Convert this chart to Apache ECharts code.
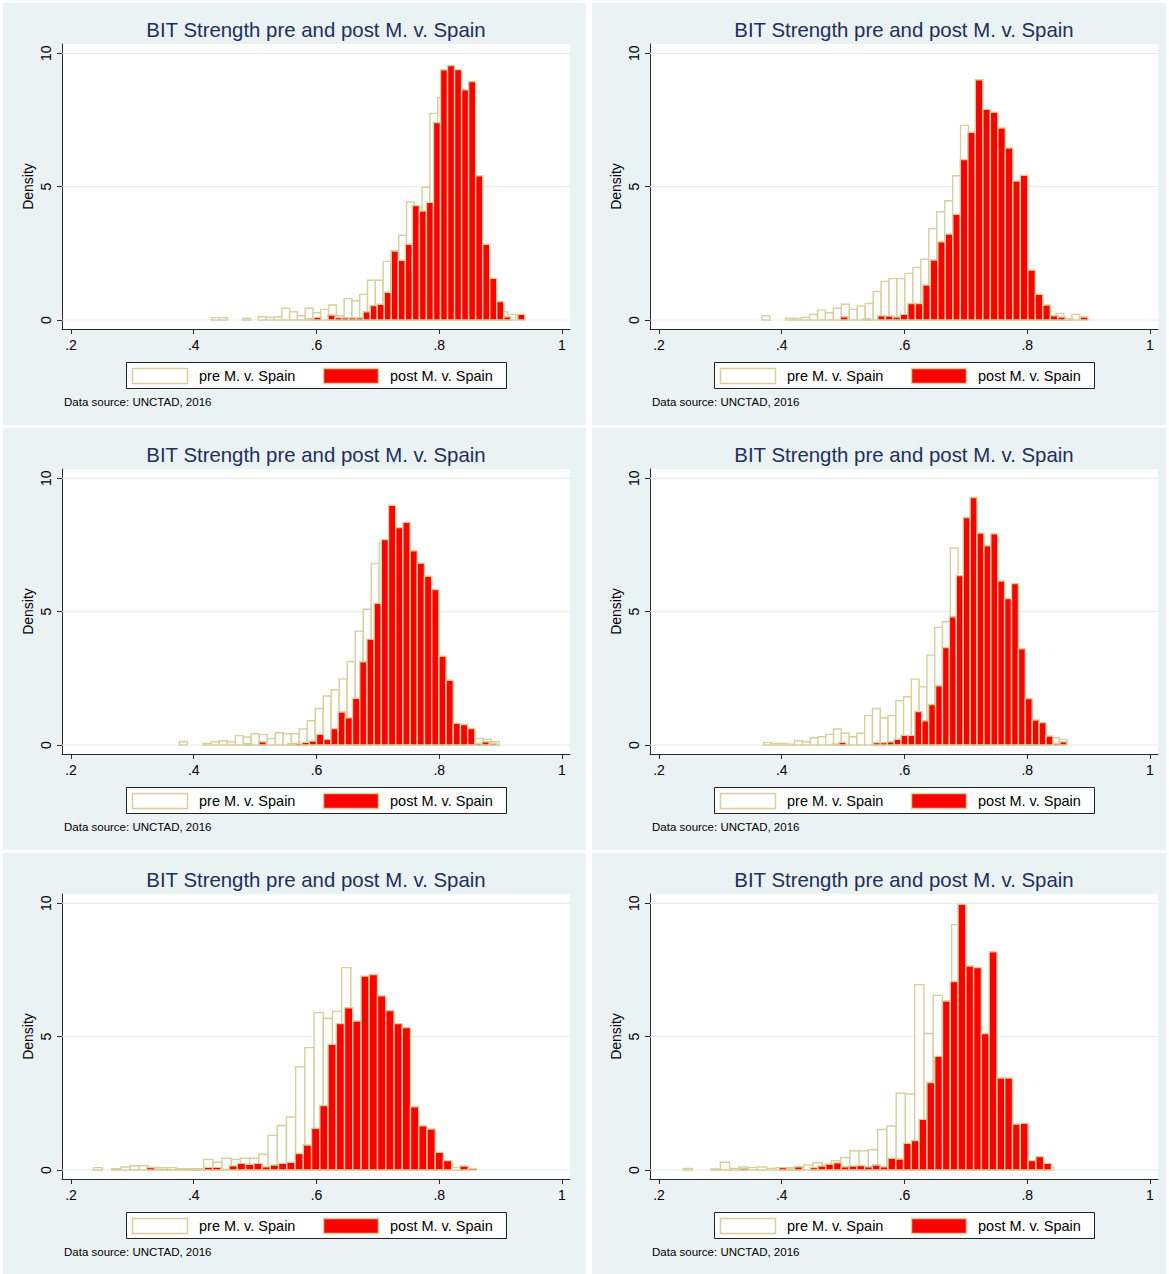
<!DOCTYPE html>
<html>
<head>
<meta charset="utf-8">
<script src="https://cdn.jsdelivr.net/npm/echarts@6/dist/echarts.min.js"></script>
<style>
html,body{margin:0;padding:0;background:#ffffff;}
#chart{width:1169px;height:1274px;}
</style>
</head>
<body>
<div id="chart"></div>
<script>
// ---------- texts & ticks ----------
const chartTitle = 'BIT Strength pre and post M. v. Spain';
const yAxisTitle = 'Density';
const preLabel = 'pre M. v. Spain';
const postLabel = 'post M. v. Spain';
const sourceNote = 'Data source: UNCTAD, 2016';
const xTickValues = [0.2, 0.4, 0.6, 0.8, 1];
const xTickLabels = ['.2', '.4', '.6', '.8', '1'];
const yTickValues = [0, 5, 10];
const yTickLabels = ['0', '5', '10'];

// ---------- panel 1 (top left) ----------
const p1PreStart = 0.4291, p1PreWidth = 0.012704;
const p1Pre = [0.09, 0.09, 0, 0, 0.06, 0, 0.12, 0.1, 0.12, 0.44, 0.31, 0.16, 0.44, 0.27, 0.4, 0.56, 0.16,
  0.8, 0.72, 0.96, 1.49, 1.49, 2.2, 2.6, 3.18, 4.43, 4.2, 4.98, 7.75, 8.34, 7.5, 7.7, 6.5, 5.0, 2.8, 1.5, 0.7, 0.31, 0.21];
const p1PostStart = 0.5844, p1PostWidth = 0.011455;
const p1Post = [0.05, 0.1, 0, 0.19, 0.09, 0.08, 0.08, 0.08, 0.31, 0.54, 0.59, 1.04, 2.59, 2.24, 2.84, 4.29, 4.09,
  4.41, 7.4, 9.38, 9.54, 9.39, 8.63, 8.94, 5.41, 2.84, 1.56, 0.69, 0.12, 0, 0.21];

// ---------- panel 2 (top right) ----------
const p2PreStart = 0.3676, p2PreWidth = 0.012952;
const p2Pre = [0.16, 0, 0, 0.07, 0.06, 0.1, 0.21, 0.37, 0.27, 0.44, 0.59, 0.4, 0.52, 0.62, 1.07, 1.45, 1.55, 1.55,
  1.75, 1.97, 2.28, 3.43, 4.06, 4.47, 5.41, 7.3, 7.0, 7.0, 6.2, 5.2, 4.2, 3.0, 2.0, 1.2, 0.5, 0.2, 0.1, 0.25, 0.05, 0.21];
const p2PostStart = 0.4955, p2PostWidth = 0.012218;
const p2Post = [0.12, 0, 0, 0.05, 0, 0.16, 0.15, 0.11, 0.21, 0.62, 0.62, 1.31, 2.25, 2.93, 3.22, 3.96, 6.02, 7.04,
  9.01, 7.9, 7.79, 7.2, 6.45, 5.21, 5.43, 1.87, 0.96, 0.56, 0.16, 0.11, 0.05, 0, 0.11];

// ---------- panel 3 (middle left) ----------
const p3PreStart = 0.3764, p3PreWidth = 0.013029;
const p3Pre = [0.12, 0, 0, 0.06, 0.12, 0.16, 0.12, 0.35, 0.3, 0.42, 0.39, 0.24, 0.46, 0.42, 0.42, 0.6, 0.91, 1.37,
  1.84, 2.07, 2.48, 3.13, 4.27, 5.09, 6.8, 7.58, 7.3, 6.8, 6.0, 4.8, 3.6, 2.8, 2.2, 1.6, 0.7, 0.4, 0.2, 0.25, 0.21, 0.12];
const p3PostStart = 0.4828, p3PostWidth = 0.011726;
const p3Post = [0.05, 0, 0.12, 0, 0, 0, 0.05, 0.06, 0.1, 0.15, 0.4, 0.21, 0.62, 1.24, 1.02, 1.75, 3.12, 3.97, 5.31,
  7.7, 8.99, 8.15, 8.35, 7.28, 6.82, 6.33, 5.83, 3.33, 2.43, 0.81, 0.77, 0.62, 0.06, 0.12, 0.06];

// ---------- panel 4 (middle right) ----------
const p4PreStart = 0.3703, p4PreWidth = 0.01268;
const p4Pre = [0.09, 0.06, 0.06, 0.03, 0.16, 0.12, 0.27, 0.31, 0.4, 0.6, 0.44, 0.31, 0.44, 1.1, 1.37, 1.02, 1.1, 1.66,
  1.81, 2.47, 2.18, 3.37, 4.41, 4.62, 7.39, 6.3, 7.0, 6.3, 5.5, 5.0, 4.2, 3.0, 1.85, 1.7, 0.9, 0.6, 0.25, 0.27, 0.21];
const p4PostStart = 0.4819, p4PostWidth = 0.011249;
const p4Post = [0.04, 0.1, 0, 0, 0, 0, 0.09, 0.09, 0.12, 0.21, 0.36, 0.36, 1.25, 0.91, 1.52, 2.22, 3.65, 4.81, 6.35,
  8.53, 9.28, 7.95, 7.47, 7.92, 6.15, 5.49, 6.05, 3.61, 1.74, 0.94, 0.84, 0.34, 0.06, 0.12];

// ---------- panel 5 (bottom left) ----------
const p5PreStart = 0.2364, p5PreWidth = 0.014984;
const p5Pre = [0.09, 0, 0.05, 0.11, 0.16, 0.16, 0.1, 0.09, 0.09, 0.05, 0.05, 0.03, 0.4, 0.29, 0.44, 0.4, 0.44, 0.44,
  0.59, 1.3, 1.67, 1.99, 3.87, 4.59, 5.9, 5.69, 5.95, 7.59, 5.5, 4.7, 3.8, 3.0, 2.3, 1.9, 1.5, 0.8, 0.4, 0.3, 0.2, 0.1];
const p5PostStart = 0.3232, p5PostWidth = 0.013436;
const p5Post = [0.09, 0.03, 0.02, 0, 0.02, 0.05, 0.05, 0.1, 0.1, 0.02, 0.16, 0.25, 0.21, 0.25, 0.12, 0.19, 0.25, 0.29,
  0.62, 0.94, 1.56, 2.42, 4.71, 5.49, 6.08, 5.59, 7.27, 7.33, 6.53, 5.98, 5.49, 5.34, 2.37, 1.66, 1.54, 0.66, 0.35, 0, 0.15, 0.06];

// ---------- panel 6 (bottom right) ----------
const p6PreStart = 0.2397, p6PreWidth = 0.015075;
const p6Pre = [0.06, 0, 0, 0.04, 0.29, 0.06, 0.11, 0.09, 0.11, 0.06, 0.09, 0.09, 0.12, 0.19, 0.27, 0.21, 0.35, 0.47,
  0.72, 0.72, 0.76, 1.52, 1.65, 2.88, 2.85, 6.95, 5.12, 6.55, 6.0, 9.2, 4.6, 3.8, 3.0, 2.4, 1.9, 1.4, 0.9, 0.3, 0.3, 0.1];
const p6PostStart = 0.3322, p6PostWidth = 0.01268;
const p6Post = [0.06, 0, 0, 0, 0, 0.09, 0.04, 0.12, 0, 0.09, 0.15, 0.22, 0.27, 0.12, 0.15, 0.17, 0.12, 0.19, 0.12,
  0.44, 0.41, 1.0, 1.1, 1.9, 3.28, 4.26, 6.34, 7.07, 9.96, 7.65, 7.59, 5.12, 8.18, 3.45, 3.45, 1.72, 1.75, 0.35, 0.5, 0.25];

// ---------- styling ----------
const FONT = '"Liberation Sans", Arial, Helvetica, sans-serif';
const PANEL_BG = '#eaf2f3';
const GRID_COLOR = '#e2eaec';
const AXIS_COLOR = '#2a2a2a';
const TITLE_COLOR = '#1f2f5c';
const OUTLINE = '#d8cf9e';
const POST_FILL = '#ff0000';
const PRE_FILL = '#ffffff';

const panels = [
  {col: 0, row: 0, preStart: p1PreStart, preWidth: p1PreWidth, pre: p1Pre, postStart: p1PostStart, postWidth: p1PostWidth, post: p1Post},
  {col: 1, row: 0, preStart: p2PreStart, preWidth: p2PreWidth, pre: p2Pre, postStart: p2PostStart, postWidth: p2PostWidth, post: p2Post},
  {col: 0, row: 1, preStart: p3PreStart, preWidth: p3PreWidth, pre: p3Pre, postStart: p3PostStart, postWidth: p3PostWidth, post: p3Post},
  {col: 1, row: 1, preStart: p4PreStart, preWidth: p4PreWidth, pre: p4Pre, postStart: p4PostStart, postWidth: p4PostWidth, post: p4Post},
  {col: 0, row: 2, preStart: p5PreStart, preWidth: p5PreWidth, pre: p5Pre, postStart: p5PostStart, postWidth: p5PostWidth, post: p5Post},
  {col: 1, row: 2, preStart: p6PreStart, preWidth: p6PreWidth, pre: p6Pre, postStart: p6PostStart, postWidth: p6PostWidth, post: p6Post}
];

// layout (px)
const COL_DX = 588, ROW_DY = 425;
const X_MIN = 0.18534, X_MAX = 1.01303;
const Y_MIN = -0.3375, Y_MAX = 10.35;

function toBins(start, width, vals) {
  return vals.map(function (v, i) { return [start + i * width, start + (i + 1) * width, v]; });
}

function barRenderer(fill) {
  return function (params, api) {
    const h = api.value(2);
    if (!(h > 0)) return null;
    const p0 = api.coord([api.value(0), 0]);
    const p1 = api.coord([api.value(1), h]);
    return {
      type: 'rect',
      shape: {x: p0[0], y: p1[1], width: p1[0] - p0[0], height: p0[1] - p1[1]},
      style: {fill: fill, stroke: OUTLINE, lineWidth: 1.4}
    };
  };
}

function gridLineRenderer(params, api) {
  const cs = params.coordSys;
  const y = api.coord([X_MIN, api.value(0)])[1];
  return {
    type: 'line',
    shape: {x1: cs.x, y1: y, x2: cs.x + cs.width, y2: y},
    style: {stroke: GRID_COLOR, lineWidth: 1}
  };
}

const grids = [], xAxes = [], yAxes = [], series = [], graphics = [];

panels.forEach(function (p, i) {
  const ox = p.col * COL_DX, oy = p.row * ROW_DY;
  const bgX = p.col === 0 ? 3 : 592;
  const bgW = p.col === 0 ? 583 : 574;
  graphics.push({
    type: 'rect', z: -10, silent: true,
    shape: {x: bgX, y: 3 + oy, width: bgW, height: 422},
    style: {fill: PANEL_BG}
  });
  grids.push({
    left: 62 + ox, top: 44 + oy, width: 508, height: 285,
    show: true, backgroundColor: '#ffffff', borderWidth: 0
  });
  xAxes.push({
    type: 'value', gridIndex: i, min: X_MIN, max: X_MAX,
    axisLine: {show: true, onZero: false, lineStyle: {color: AXIS_COLOR, width: 1}},
    axisTick: {show: true, length: 5, customValues: xTickValues, lineStyle: {color: AXIS_COLOR}},
    axisLabel: {
      customValues: xTickValues, margin: 9, color: '#000', fontFamily: FONT, fontSize: 14,
      formatter: function (v) { const k = xTickValues.findIndex(function (t) { return Math.abs(t - v) < 1e-6; }); return k >= 0 ? xTickLabels[k] : ''; }
    },
    splitLine: {show: false}
  });
  yAxes.push({
    type: 'value', gridIndex: i, min: Y_MIN, max: Y_MAX,
    name: yAxisTitle, nameLocation: 'middle', nameRotate: 90, nameGap: 27,
    nameTextStyle: {color: '#000', fontFamily: FONT, fontSize: 14},
    axisLine: {show: true, onZero: false, lineStyle: {color: AXIS_COLOR, width: 1}},
    axisTick: {show: true, length: 5, customValues: yTickValues, lineStyle: {color: AXIS_COLOR}},
    axisLabel: {
      customValues: yTickValues, rotate: 90, margin: 9, color: '#000', fontFamily: FONT, fontSize: 14,
      formatter: function (v) { const k = yTickValues.findIndex(function (t) { return Math.abs(t - v) < 1e-6; }); return k >= 0 ? yTickLabels[k] : ''; }
    },
    splitLine: {show: false}
  });
  series.push({
    type: 'custom', name: 'grid' + i, xAxisIndex: i, yAxisIndex: i, z: 1, silent: true,
    renderItem: gridLineRenderer, encode: {y: 0},
    data: yTickValues.map(function (v) { return [v]; })
  });
  series.push({
    type: 'custom', name: preLabel, xAxisIndex: i, yAxisIndex: i, z: 2,
    renderItem: barRenderer(PRE_FILL), encode: {x: [0, 1], y: 2},
    data: toBins(p.preStart, p.preWidth, p.pre)
  });
  series.push({
    type: 'custom', name: postLabel, xAxisIndex: i, yAxisIndex: i, z: 3,
    renderItem: barRenderer(POST_FILL), encode: {x: [0, 1], y: 2},
    data: toBins(p.postStart, p.postWidth, p.post)
  });
  // title
  graphics.push({
    type: 'text', z: 10, x: 316 + ox, y: 30 + oy,
    style: {text: chartTitle, fill: TITLE_COLOR, font: 'normal 20.4px ' + FONT, textAlign: 'center', textVerticalAlign: 'middle'}
  });
  // legend
  graphics.push({
    type: 'rect', z: 10, shape: {x: 126.5 + ox, y: 362.5 + oy, width: 380, height: 26},
    style: {fill: '#ffffff', stroke: '#222222', lineWidth: 1}
  });
  graphics.push({
    type: 'rect', z: 11, shape: {x: 132.5 + ox, y: 368.5 + oy, width: 55, height: 15},
    style: {fill: PRE_FILL, stroke: OUTLINE, lineWidth: 1.5}
  });
  graphics.push({
    type: 'text', z: 11, x: 199 + ox, y: 376 + oy,
    style: {text: preLabel, fill: '#000', font: 'normal 14.5px ' + FONT, textAlign: 'left', textVerticalAlign: 'middle'}
  });
  graphics.push({
    type: 'rect', z: 11, shape: {x: 323.5 + ox, y: 368.5 + oy, width: 55, height: 15},
    style: {fill: POST_FILL, stroke: OUTLINE, lineWidth: 1.5}
  });
  graphics.push({
    type: 'text', z: 11, x: 390 + ox, y: 376 + oy,
    style: {text: postLabel, fill: '#000', font: 'normal 14.5px ' + FONT, textAlign: 'left', textVerticalAlign: 'middle'}
  });
  // source note
  graphics.push({
    type: 'text', z: 10, x: 64 + ox, y: 402 + oy,
    style: {text: sourceNote, fill: '#000', font: 'normal 11.5px ' + FONT, textAlign: 'left', textVerticalAlign: 'middle'}
  });
});

const chart = echarts.init(document.getElementById('chart'), null, {renderer: 'svg', width: 1169, height: 1274});
chart.setOption({
  animation: false,
  backgroundColor: '#ffffff',
  grid: grids,
  xAxis: xAxes,
  yAxis: yAxes,
  series: series,
  graphic: {elements: graphics}
});
</script>
</body>
</html>
